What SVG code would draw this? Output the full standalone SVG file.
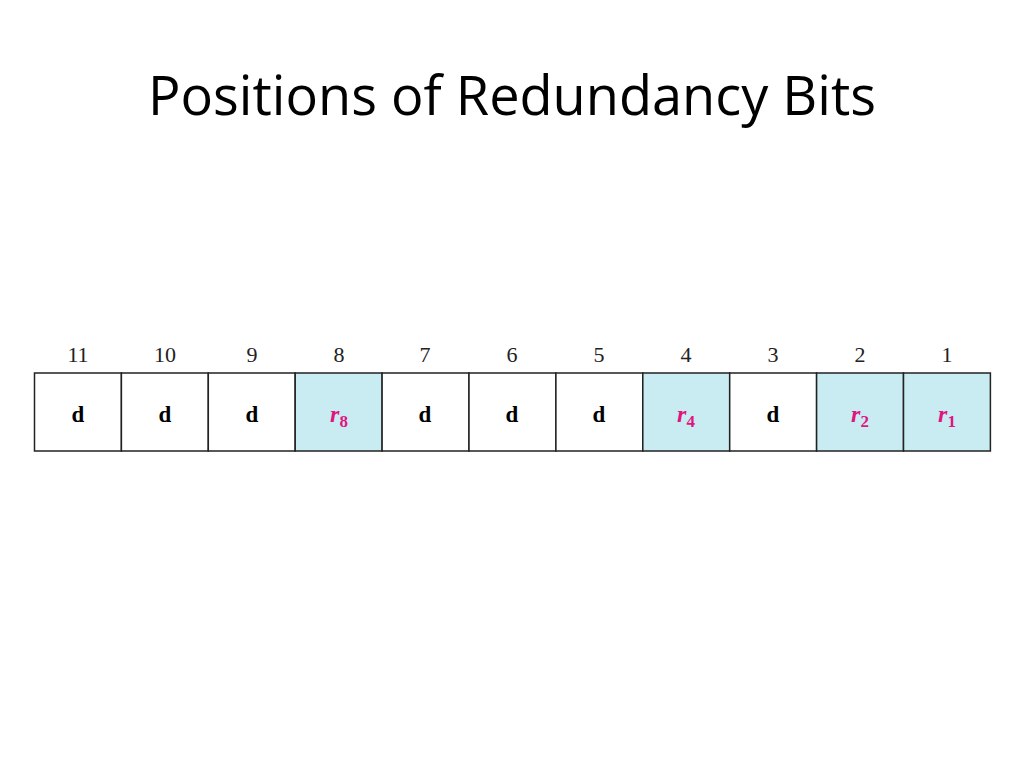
<svg xmlns="http://www.w3.org/2000/svg" width="1024" height="768" viewBox="0 0 1024 768">
<style>
.title{font-family:"Open Sans","Noto Sans",sans-serif;font-size:55px;fill:#000;text-anchor:middle}
.num{font-family:"Liberation Serif","Times New Roman",serif;font-size:22px;fill:#222;text-anchor:middle}
.cell{stroke:#222;stroke-width:1.5}
.d{fill:#fff}
.r{fill:#c9ebf2}
.dl{font-family:"Liberation Serif","Times New Roman",serif;font-size:23px;font-weight:bold;fill:#000;text-anchor:middle}
.rl{font-family:"Liberation Serif","Times New Roman",serif;font-size:24px;font-style:italic;font-weight:bold;fill:#e0167f;text-anchor:middle}
.sub{font-size:17px;font-style:normal}
</style>
<rect width="1024" height="768" fill="#fff"/>
<text class="title" x="512" y="115" textLength="728" lengthAdjust="spacingAndGlyphs">Positions of Redundancy Bits</text>
<g id="numbers">
<text class="num" x="78" y="362">11</text>
<text class="num" x="165" y="362">10</text>
<text class="num" x="252" y="362">9</text>
<text class="num" x="339" y="362">8</text>
<text class="num" x="425" y="362">7</text>
<text class="num" x="512" y="362">6</text>
<text class="num" x="599" y="362">5</text>
<text class="num" x="686" y="362">4</text>
<text class="num" x="773" y="362">3</text>
<text class="num" x="860" y="362">2</text>
<text class="num" x="947" y="362">1</text>
</g>
<g id="cell11"><rect class="cell d" x="34.5" y="373" width="86.9" height="78"/><text class="dl" x="78" y="422">d</text></g>
<g id="cell10"><rect class="cell d" x="121.4" y="373" width="86.9" height="78"/><text class="dl" x="165" y="422">d</text></g>
<g id="cell9"><rect class="cell d" x="208.3" y="373" width="86.9" height="78"/><text class="dl" x="252" y="422">d</text></g>
<g id="cell8"><rect class="cell r" x="295.2" y="373" width="86.9" height="78"/><text class="rl" x="339" y="422">r<tspan class="sub" dy="5">8</tspan></text></g>
<g id="cell7"><rect class="cell d" x="382.1" y="373" width="86.9" height="78"/><text class="dl" x="425" y="422">d</text></g>
<g id="cell6"><rect class="cell d" x="469" y="373" width="86.9" height="78"/><text class="dl" x="512" y="422">d</text></g>
<g id="cell5"><rect class="cell d" x="555.9" y="373" width="86.9" height="78"/><text class="dl" x="599" y="422">d</text></g>
<g id="cell4"><rect class="cell r" x="642.8" y="373" width="86.9" height="78"/><text class="rl" x="686" y="422">r<tspan class="sub" dy="5">4</tspan></text></g>
<g id="cell3"><rect class="cell d" x="729.7" y="373" width="86.9" height="78"/><text class="dl" x="773" y="422">d</text></g>
<g id="cell2"><rect class="cell r" x="816.6" y="373" width="86.9" height="78"/><text class="rl" x="860" y="422">r<tspan class="sub" dy="5">2</tspan></text></g>
<g id="cell1"><rect class="cell r" x="903.5" y="373" width="86.9" height="78"/><text class="rl" x="947" y="422">r<tspan class="sub" dy="5">1</tspan></text></g>
</svg>
